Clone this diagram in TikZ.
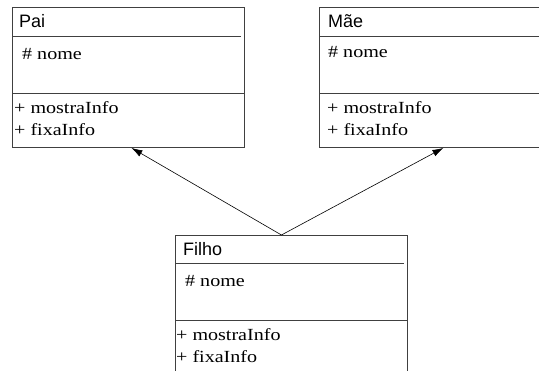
\documentclass[tikz,border=0pt]{standalone}
\usepackage{fontspec}
\setmainfont{Liberation Serif}
\newfontfamily\titlefont{Liberation Sans}
\newfontfamily\membfont[FakeStretch=1.18]{Liberation Serif}
\usetikzlibrary{arrows.meta}

\tikzset{
	classbox/.style={draw=black!75, line width=0.9pt, anchor=north west, minimum width=232pt, minimum height=140pt, inner sep=0pt},
	classname/.style={font=\titlefont\fontsize{18pt}{22pt}\selectfont, inner sep=0pt, anchor=base west},
	member/.style={font=\membfont\fontsize{17pt}{22pt}\selectfont, inner sep=0pt, anchor=base west},
	sepline/.style={draw=black!75, line width=0.9pt},
	heranca/.style={-{Latex[length=11pt,width=7pt]}, line width=0.6pt}
}

\begin{document}
\begin{tikzpicture}[x=1pt, y=-1pt]
		\clip (0,0) rectangle (539,371);
		
		% classes
		\node[classbox] (pai) at (12,7) {};
		\node[classbox] (mae) at (319,7) {};
		\node[classbox] (filho) at (175,235) {};
		
		\draw[sepline] (pai.north west) ++(0,29) -- ++(229,0);
		\draw[sepline] (pai.north west) ++(0,86) -- ++(232,0);
		\draw[sepline] (mae.north west) ++(0,29) -- ++(232,0);
		\draw[sepline] (mae.north west) ++(0,86) -- ++(232,0);
		\draw[sepline] (filho.north west) ++(0,28) -- ++(229,0);
		\draw[sepline] (filho.north west) ++(0,85) -- ++(232,0);
		
		\node[classname] (paiTitulo) at (19,28) {Pai};
		\node[member] (paiAtrib) at (22,60) {\# nome};
		\node[member] (paiMostra) at (14,114) {+ mostraInfo};
		\node[member] (paiFixa) at (14,136) {+ fixaInfo};
		
		\node[classname] (maeTitulo) at (328,28) {Mãe};
		\node[member] (maeAtrib) at (328,58) {\# nome};
		\node[member] (maeMostra) at (327,114) {+ mostraInfo};
		\node[member] (maeFixa) at (327,136) {+ fixaInfo};
		
		\node[classname] (filhoTitulo) at (183,256) {Filho};
		\node[member] (filhoAtrib) at (185,287) {\# nome};
		\node[member] (filhoMostra) at (176,341) {+ mostraInfo};
		\node[member] (filhoFixa) at (176,363) {+ fixaInfo};
		
		% heranca
		\draw[heranca] ([xshift=-10pt]filho.north) -- ([xshift=3pt]pai.south);
		\draw[heranca] ([xshift=-10pt]filho.north) -- ([xshift=8pt]mae.south);
		
	\end{tikzpicture}
\end{document}
